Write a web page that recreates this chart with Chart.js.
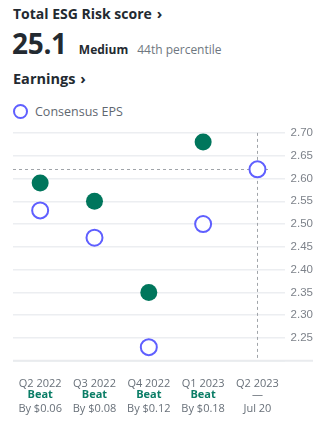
<!DOCTYPE html>
<html>
<head>
<meta charset="utf-8">
<script src="https://cdn.jsdelivr.net/npm/chart.js@4"></script>
<style>
  html, body { margin: 0; padding: 0; background: #fff; }
  body { width: 321px; height: 423px; position: relative; overflow: hidden; font-family: "Open Sans", sans-serif; color: #232a31; }
  .title { position: absolute; left: 13px; top: 3px; font-size: 14px; font-weight: 700; white-space: nowrap; }
  .chev { font-size: 15px; margin-left: 5px; }
  .score { position: absolute; left: 12px; top: 24px; white-space: nowrap; }
  .score .big { font-size: 28px; font-weight: 700; letter-spacing: -0.3px; }
  .score .lvl { font-size: 12px; font-weight: 700; margin-left: 12px; }
  .score .pct { font-size: 12px; color: #6e7780; margin-left: 9px; }
  .earn { position: absolute; left: 13px; top: 68px; font-size: 14.5px; font-weight: 700; white-space: nowrap; }
  .legend { position: absolute; left: 13px; top: 102px; height: 18px; display: flex; align-items: center; font-size: 12.5px; color: #5f6770; white-space: nowrap; }
  .legend i { display: inline-block; width: 11px; height: 11px; border: 2px solid #5f5fff; border-radius: 50%; margin-right: 7px; }
  #wrap { position: absolute; left: 0; top: 120px; width: 321px; height: 303px; }
</style>
</head>
<body>
<div class="title">Total ESG Risk score<span class="chev">›</span></div>
<div class="score"><span class="big">25.1</span><span class="lvl">Medium</span><span class="pct">44th percentile</span></div>
<div class="earn">Earnings<span class="chev">›</span></div>
<div class="legend"><i></i>Consensus EPS</div>
<div id="wrap"><canvas id="eps"></canvas></div>
<script>
// ----- data -----
const quarters = ['Q2 2022', 'Q3 2022', 'Q4 2022', 'Q1 2023', 'Q2 2023'];
const actualEps = [2.59, 2.55, 2.35, 2.68, null];
const consensusEps = [2.53, 2.47, 2.23, 2.50, 2.62];
const results = ['Beat', 'Beat', 'Beat', 'Beat', '—'];
const notes = ['By $0.06', 'By $0.08', 'By $0.12', 'By $0.18', 'Jul 20'];

const GREEN = '#00765c';
const BLUE = '#5f5fff';
const GRAY = '#687079';

// dashed guides at the upcoming estimate + bottom rule
const guides = {
  id: 'guides',
  beforeDatasetsDraw(chart) {
    const { ctx, chartArea: a, scales: { x, y } } = chart;
    const last = consensusEps.length - 1;
    const px = x.getPixelForValue(last);
    const py = y.getPixelForValue(consensusEps[last]);
    ctx.save();
    ctx.strokeStyle = '#e9ebee';
    ctx.lineWidth = 2;
    ctx.beginPath();
    ctx.moveTo(a.left, a.bottom);
    ctx.lineTo(chart.width - 8, a.bottom);
    ctx.stroke();
    ctx.strokeStyle = '#a0a4a9';
    ctx.lineWidth = 1;
    ctx.setLineDash([3, 3]);
    ctx.beginPath();
    ctx.moveTo(Math.round(px) + 0.5, a.top);
    ctx.lineTo(Math.round(px) + 0.5, a.bottom);
    ctx.moveTo(a.left, Math.round(py) + 0.5);
    ctx.lineTo(a.right - 14, Math.round(py) + 0.5);
    ctx.stroke();
    ctx.restore();
  }
};

// 2nd and 3rd line of the x labels
const subLabels = {
  id: 'subLabels',
  afterDraw(chart) {
    const { ctx, chartArea: a, scales: { x } } = chart;
    ctx.save();
    ctx.textAlign = 'center';
    ctx.textBaseline = 'middle';
    quarters.forEach((q, i) => {
      const px = x.getPixelForValue(i);
      const beat = results[i] === 'Beat';
      ctx.font = (beat ? '700 ' : '400 ') + '11px "Open Sans"';
      ctx.fillStyle = beat ? '#0a7d66' : GRAY;
      ctx.fillText(results[i], px, a.bottom + 34);
      ctx.font = '400 11px "Open Sans"';
      ctx.fillStyle = GRAY;
      ctx.fillText(notes[i], px, a.bottom + 48);
    });
    ctx.restore();
  }
};

new Chart(document.getElementById('eps'), {
  type: 'line',
  data: {
    labels: quarters,
    datasets: [
      {
        label: 'Actual EPS',
        data: actualEps,
        showLine: false,
        pointRadius: 8.5,
        pointHoverRadius: 8.5,
        pointBorderWidth: 0,
        backgroundColor: GREEN,
        borderColor: GREEN
      },
      {
        label: 'Consensus EPS',
        data: consensusEps,
        showLine: false,
        pointRadius: 8,
        pointHoverRadius: 8,
        pointBorderWidth: 2,
        backgroundColor: '#ffffff',
        borderColor: BLUE
      }
    ]
  },
  options: {
    responsive: true,
    maintainAspectRatio: false,
    animation: false,
    layout: { padding: { left: 13, right: 2, top: 12, bottom: 25 } },
    plugins: {
      legend: { display: false },
      tooltip: { enabled: false }
    },
    scales: {
      x: {
        offset: true,
        grid: { display: false },
        border: { display: false },
        ticks: {
          color: GRAY,
          padding: 8,
          maxRotation: 0,
          font: { family: 'Open Sans', size: 11 }
        }
      },
      y: {
        position: 'right',
        min: 2.2,
        max: 2.7,
        grid: { color: '#eceef1', lineWidth: 1.5, drawTicks: false },
        border: { display: false },
        ticks: {
          stepSize: 0.05,
          padding: 6,
          color: '#7d828a',
          font: { family: 'Liberation Sans', size: 11.5 },
          callback: v => (Math.abs(v - 2.2) < 1e-6 ? '' : v.toFixed(2))
        }
      }
    }
  },
  plugins: [guides, subLabels]
});
</script>
</body>
</html>
